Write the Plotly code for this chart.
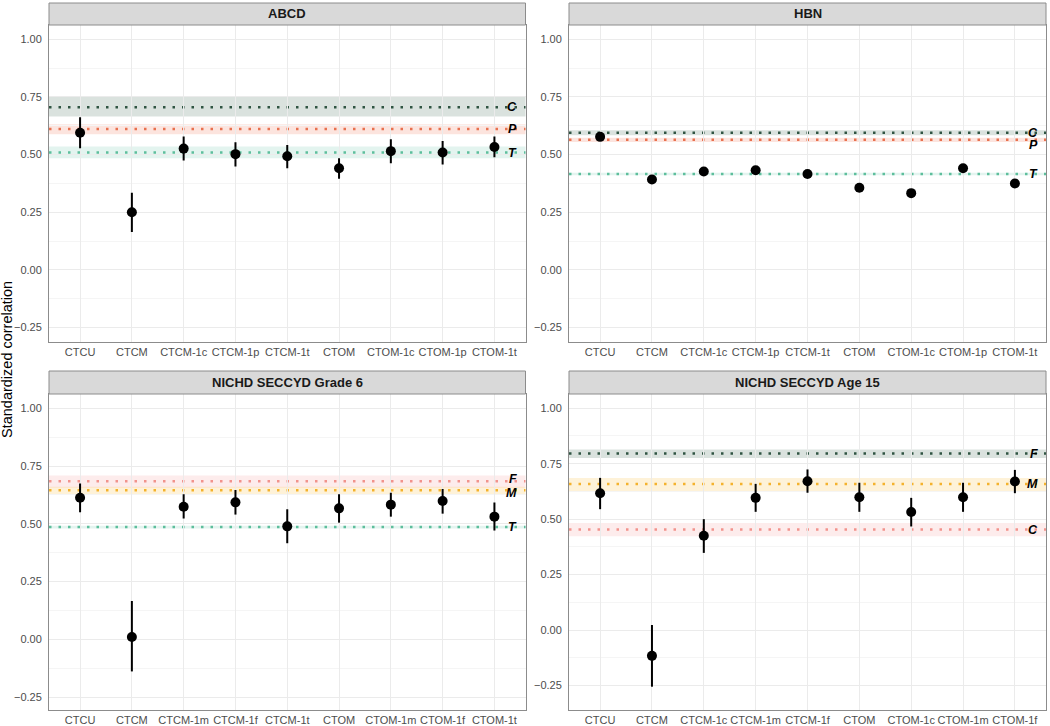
import plotly.graph_objects as go

# ---------------- data ----------------
panel_titles = ["ABCD", "HBN", "NICHD SECCYD Grade 6", "NICHD SECCYD Age 15"]

abcd_models = ["CTCU", "CTCM", "CTCM-1c", "CTCM-1p", "CTCM-1t", "CTOM", "CTOM-1c", "CTOM-1p", "CTOM-1t"]
abcd_est = [0.595, 0.250, 0.526, 0.502, 0.493, 0.441, 0.515, 0.509, 0.533]
abcd_lo = [0.528, 0.164, 0.474, 0.448, 0.441, 0.395, 0.463, 0.457, 0.489]
abcd_hi = [0.662, 0.335, 0.578, 0.554, 0.542, 0.484, 0.567, 0.559, 0.578]
abcd_ref_names = ["C", "P", "T"]
abcd_ref_est = [0.705, 0.611, 0.509]
abcd_ref_lo = [0.665, 0.588, 0.484]
abcd_ref_hi = [0.751, 0.632, 0.535]

hbn_models = ["CTCU", "CTCM", "CTCM-1c", "CTCM-1p", "CTCM-1t", "CTOM", "CTOM-1c", "CTOM-1p", "CTOM-1t"]
hbn_est = [0.577, 0.392, 0.427, 0.432, 0.416, 0.356, 0.333, 0.441, 0.375]
hbn_ref_names = ["C", "P", "T"]
hbn_ref_est = [0.595, 0.564, 0.416]
hbn_ref_lo = [0.584, 0.555, 0.411]
hbn_ref_hi = [0.606, 0.573, 0.421]

g6_models = ["CTCU", "CTCM", "CTCM-1m", "CTCM-1f", "CTCM-1t", "CTOM", "CTOM-1m", "CTOM-1f", "CTOM-1t"]
g6_est = [0.613, 0.010, 0.574, 0.593, 0.489, 0.567, 0.583, 0.599, 0.531]
g6_lo = [0.550, -0.139, 0.523, 0.540, 0.416, 0.505, 0.531, 0.544, 0.471]
g6_hi = [0.675, 0.166, 0.628, 0.646, 0.563, 0.628, 0.635, 0.651, 0.592]
g6_ref_names = ["F", "M", "T"]
g6_ref_est = [0.684, 0.645, 0.486]
g6_ref_lo = [0.656, 0.625, 0.480]
g6_ref_hi = [0.709, 0.660, 0.492]

a15_models = ["CTCU", "CTCM", "CTCM-1c", "CTCM-1m", "CTCM-1f", "CTOM", "CTOM-1c", "CTOM-1m", "CTOM-1f"]
a15_est = [0.617, -0.116, 0.425, 0.596, 0.671, 0.599, 0.532, 0.599, 0.670]
a15_lo = [0.545, -0.255, 0.348, 0.533, 0.619, 0.533, 0.467, 0.533, 0.617]
a15_hi = [0.686, 0.023, 0.500, 0.659, 0.724, 0.664, 0.596, 0.664, 0.722]
a15_ref_names = ["F", "M", "C"]
a15_ref_est = [0.796, 0.658, 0.453]
a15_ref_lo = [0.776, 0.626, 0.423]
a15_ref_hi = [0.814, 0.686, 0.483]

y_title = "Standardized correlation"

# ---------------- styling ----------------
W, H = 1050, 726
FONT = "Liberation Sans, Arial, Helvetica, sans-serif"

DARK = ("#2F5442", "rgba(70,110,88,0.20)")
ORANGE = ("#E8714F", "rgba(240,120,90,0.20)")
TEAL = ("#5DBE9C", "rgba(102,194,165,0.18)")
PINK = ("#F2928C", "rgba(242,130,125,0.15)")
YELLOW = ("#F4B22C", "rgba(250,190,60,0.20)")

panels = [
    dict(title=panel_titles[0], models=abcd_models, est=abcd_est, lo=abcd_lo, hi=abcd_hi,
         rn=abcd_ref_names, re=abcd_ref_est, rl=abcd_ref_lo, rh=abcd_ref_hi,
         colors=[DARK, ORANGE, TEAL], nudge=[0, 0, 0], yr=[-0.3125, 1.062],
         px=(49, 525.5), py=(3, 25, 342)),
    dict(title=panel_titles[1], models=hbn_models, est=hbn_est, lo=None, hi=None,
         rn=hbn_ref_names, re=hbn_ref_est, rl=hbn_ref_lo, rh=hbn_ref_hi,
         colors=[DARK, ORANGE, TEAL], nudge=[0, -0.023, 0], yr=[-0.3125, 1.062],
         px=(569, 1046), py=(3, 25, 342)),
    dict(title=panel_titles[2], models=g6_models, est=g6_est, lo=g6_lo, hi=g6_hi,
         rn=g6_ref_names, re=g6_ref_est, rl=g6_ref_lo, rh=g6_ref_hi,
         colors=[PINK, YELLOW, TEAL], nudge=[0.01, -0.012, 0], yr=[-0.306, 1.062],
         px=(49, 525.5), py=(371, 394, 710)),
    dict(title=panel_titles[3], models=a15_models, est=a15_est, lo=a15_lo, hi=a15_hi,
         rn=a15_ref_names, re=a15_ref_est, rl=a15_ref_lo, rh=a15_ref_hi,
         colors=[DARK, YELLOW, PINK], nudge=[-0.004, 0, 0], yr=[-0.36, 1.064],
         px=(569, 1046), py=(371, 394, 710)),
]

fig = go.Figure()
shapes = []
annotations = []

for i, p in enumerate(panels):
    n = "" if i == 0 else str(i + 1)
    xa, ya = "x" + n, "y" + n
    x0, x1 = p["px"]
    s_top, p_top, p_bot = p["py"]

    err = None
    if p["lo"] is not None:
        err = dict(type="data", symmetric=False,
                   array=[h - e for h, e in zip(p["hi"], p["est"])],
                   arrayminus=[e - l for e, l in zip(p["est"], p["lo"])],
                   color="black", thickness=2, width=0)
    fig.add_trace(go.Scatter(x=p["models"], y=p["est"], mode="markers",
                             marker=dict(color="black", size=10),
                             error_y=err, xaxis=xa, yaxis=ya, showlegend=False,
                             cliponaxis=False))

    # reference bands & lines
    for name, e, l, h, (lc, fc), nd in zip(p["rn"], p["re"], p["rl"], p["rh"], p["colors"], p["nudge"]):
        shapes.append(dict(type="rect", xref=xa + " domain", yref=ya, x0=0, x1=1, y0=l, y1=h,
                           fillcolor=fc, line=dict(width=0), layer="below"))
        shapes.append(dict(type="line", xref=xa + " domain", yref=ya, x0=0, x1=1, y0=e, y1=e,
                           line=dict(color=lc, width=2.5, dash="2.5px,7px"), layer="below"))
        annotations.append(dict(text="<b><i>%s</i></b>" % name, xref=xa + " domain", yref=ya,
                                x=0.987, y=e + nd, xanchor="right", yanchor="middle",
                                showarrow=False, font=dict(family=FONT, size=12.5, color="black")))

    # strip
    shapes.append(dict(type="rect", xref="paper", yref="paper",
                       x0=x0 / W, x1=x1 / W, y0=1 - p_top / H, y1=1 - s_top / H,
                       fillcolor="#d9d9d9", line=dict(color="#8c8c8c", width=1), layer="above"))
    annotations.append(dict(text="<b>%s</b>" % p["title"], xref="paper", yref="paper",
                            x=(x0 + x1) / 2 / W, y=1 - (s_top + p_top) / 2 / H,
                            xanchor="center", yanchor="middle", showarrow=False,
                            font=dict(family=FONT, size=13, color="#1a1a1a")))

    fig.layout["xaxis" + n] = dict(
        domain=[x0 / W, x1 / W], anchor=ya, type="category",
        categoryorder="array", categoryarray=p["models"],
        range=[-0.6, len(p["models"]) - 0.4],
        showgrid=True, gridcolor="#ebebeb", gridwidth=1,
        showline=True, linecolor="#8c8c8c", linewidth=1, mirror=True,
        ticks="", ticklen=0,
        tickfont=dict(family=FONT, size=11, color="#4d4d4d"), zeroline=False, fixedrange=True)
    fig.layout["yaxis" + n] = dict(
        domain=[1 - p_bot / H, 1 - p_top / H], anchor=xa,
        range=p["yr"], tick0=0, dtick=0.25, tickformat=".2f",
        showgrid=True, gridcolor="#ebebeb", gridwidth=1,
        minor=dict(dtick=0.125, tick0=0, showgrid=True, gridcolor="#f5f5f5", gridwidth=0.6),
        showline=True, linecolor="#8c8c8c", linewidth=1, mirror=True,
        ticks="outside", ticklen=4, tickcolor="rgba(0,0,0,0)",
        tickfont=dict(family=FONT, size=11, color="#4d4d4d"), zeroline=False, fixedrange=True)

annotations.append(dict(text=y_title, xref="paper", yref="paper", x=7 / W, y=1 - 360 / H,
                        textangle=-90, xanchor="center", yanchor="middle", showarrow=False,
                        font=dict(family=FONT, size=14.5, color="black")))

fig.update_layout(width=W, height=H, autosize=False, margin=dict(l=0, r=0, t=0, b=0),
                  paper_bgcolor="white", plot_bgcolor="white",
                  shapes=shapes, annotations=annotations,
                  font=dict(family=FONT))

fig.write_html("out.html")
